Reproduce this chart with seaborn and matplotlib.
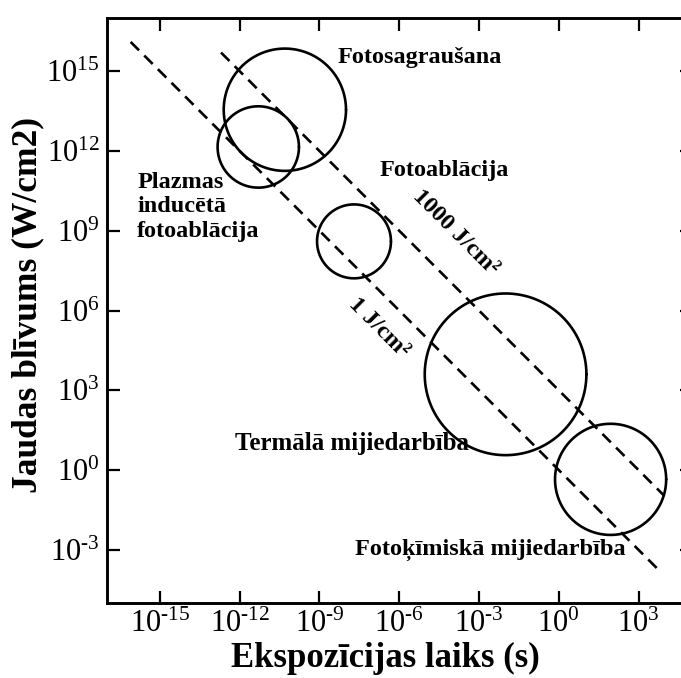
import numpy as np
import pandas as pd
import matplotlib
matplotlib.use("Agg")
import matplotlib.pyplot as plt
import seaborn as sns

# Interaction regimes: centre (log10 exposure time, log10 power density), radius in decades
regimes = ["Fotosagraušana", "Plazmas inducētā fotoablācija", "Fotoablācija",
           "Termālā mijiedarbība", "Fotoķīmiskā mijiedarbība"]
center_log_t = [-10.3, -11.3, -7.7, -2.0, 1.95]
center_log_i = [13.55, 12.15, 8.6, 3.6, -0.35]
radius_dec = [2.3, 1.53, 1.39, 3.04, 2.09]

# Constant-fluence lines (J/cm2) and the exposure-time span drawn for each
fluences = [1, 1000]
fluence_t_start = [10 ** -16.1, 10 ** -12.7]
fluence_t_end = [10 ** 3.8, 10 ** 3.95]

x_ticks = [1e-15, 1e-12, 1e-9, 1e-6, 1e-3, 1e0, 1e3]
x_tick_labels = [r"$10^{\text{-}15}$", r"$10^{\text{-}12}$", r"$10^{\text{-}9}$",
                 r"$10^{\text{-}6}$", r"$10^{\text{-}3}$", r"$10^{0}$", r"$10^{3}$"]
y_ticks = [1e-3, 1e0, 1e3, 1e6, 1e9, 1e12, 1e15]
y_tick_labels = [r"$10^{\text{-}3}$", r"$10^{0}$", r"$10^{3}$", r"$10^{6}$",
                 r"$10^{9}$", r"$10^{12}$", r"$10^{15}$"]

sns.set_style("ticks")
plt.rcParams["font.family"] = ["Liberation Serif", "DejaVu Serif"]
plt.rcParams["mathtext.fontset"] = "custom"
plt.rcParams["mathtext.rm"] = "Liberation Serif"
plt.rcParams["mathtext.it"] = "Liberation Serif:italic"
plt.rcParams["mathtext.bf"] = "Liberation Serif:bold"
for key in ["text.color", "axes.labelcolor", "xtick.color", "ytick.color",
            "axes.edgecolor"]:
    plt.rcParams[key] = "black"

fig = plt.figure(figsize=(6.81, 6.78), dpi=100)
W, H = 681, 678
ax = fig.add_axes([106.7 / W, (H - 603) / H, 585 / W, 585 / H])
ax.set_xscale("log")
ax.set_yscale("log")
ax.set_xlim(1e-17, 1e5)
ax.set_ylim(1e-5, 1e17)

# constant-fluence lines: I = F / t
for F, t0, t1 in zip(fluences, fluence_t_start, fluence_t_end):
    t = np.array([t0, t1])
    sns.lineplot(x=t, y=F / t, ax=ax, color="black", lw=1.9,
                 linestyle=(0, (4.5, 2.8)), sort=False, estimator=None)

# regime outlines, round in log-log space
theta = np.linspace(0, 2 * np.pi, 400)
for name, cx, cy, r in zip(regimes, center_log_t, center_log_i, radius_dec):
    df = pd.DataFrame({"t": 10 ** (cx + r * np.cos(theta)),
                       "i": 10 ** (cy + r * np.sin(theta))})
    sns.lineplot(data=df, x="t", y="i", ax=ax, color="black", lw=1.9,
                 sort=False, estimator=None)

ax.set_xticks(x_ticks)
ax.set_xticklabels(x_tick_labels)
ax.set_yticks(y_ticks)
ax.set_yticklabels(y_tick_labels)
ax.minorticks_off()
ax.tick_params(which="both", direction="in", length=9, width=1.6,
               top=True, right=True, labelsize=22, pad=5,
               color="black", labelcolor="black")
for s in ax.spines.values():
    s.set_linewidth(2.1)
    s.set_color("black")

ax.set_xlabel("Ekspozīcijas laiks (s)", fontsize=25, fontweight="bold",
              va="center", ha="center", color="black")
ax.xaxis.set_label_coords(0.477, -0.094)
ax.set_ylabel("Jaudas blīvums (W/cm2)", fontsize=25.5, fontweight="bold",
              va="center", ha="center", color="black")
ax.yaxis.set_label_coords(-0.1345, 0.509)

kw = dict(transform=ax.transAxes, fontsize=17.5, fontweight="bold", color="black")
ax.text(0.394, 0.932, regimes[0], ha="left", va="center", **kw)
ax.text(0.052, 0.677, "Plazmas\ninducētā\nfotoablācija", ha="left", va="center",
        linespacing=1.22, **kw)
ax.text(0.467, 0.740, regimes[2], ha="left", va="center", **kw)
ax.text(0.4193, 0.2735, regimes[3], ha="center", va="center",
        **{**kw, "fontsize": 18})
ax.text(0.656, 0.0906, regimes[4], ha="center", va="center", **kw)
ax.text(0.596, 0.634, "1000 J/cm²", ha="center", va="center", rotation=-45,
        rotation_mode="anchor", **kw)
ax.text(0.464, 0.470, "1 J/cm²", ha="center", va="center", rotation=-45,
        rotation_mode="anchor", **kw)

fig.savefig("out.png", dpi=100)
